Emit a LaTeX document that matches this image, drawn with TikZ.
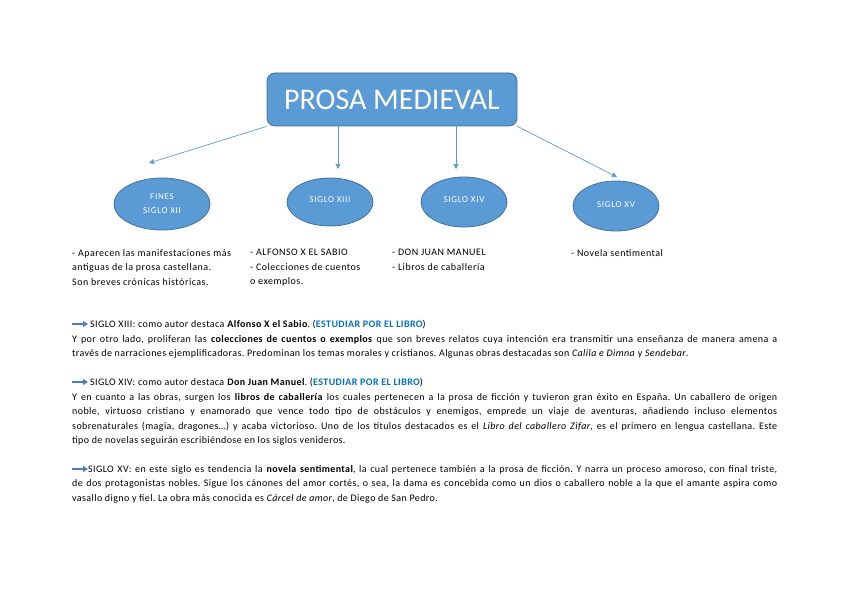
\documentclass[tikz,border=0pt]{standalone}
\usepackage{fontspec}
\setmainfont{Carlito}
\newfontfamily\spaced{Carlito}[LetterSpace=5]
\newfontfamily\parafont{Carlito}[LetterSpace=4]
\newfontfamily\labelfont{Carlito}[LetterSpace=8]
\usepackage{xcolor}
\usetikzlibrary{shapes,arrows.meta,positioning}
\frenchspacing

\definecolor{boxblue}{HTML}{5B9BD5}
\definecolor{edgeblue}{HTML}{41719C}
\definecolor{linkblue}{HTML}{0070C0}
\definecolor{iconblue}{HTML}{4A7EBB}

\begin{document}
\begin{tikzpicture}[
    x=1pt, y=-1pt,
    header/.style={rectangle, draw=edgeblue, line width=0.8pt, fill=boxblue, text=white, rounded corners=8pt, minimum width=250pt, minimum height=53pt, font=\fontsize{30}{34}\selectfont},
    epoch/.style={ellipse, draw=edgeblue, line width=0.8pt, fill=boxblue, text=white, inner sep=0pt, align=center, font=\labelfont\fontsize{9}{14}\selectfont},
    notes/.style={anchor=north west, inner sep=0pt, align=left, font=\spaced\fontsize{10}{14.5}\selectfont},
    para/.style={anchor=north west, inner sep=0pt, text width=705pt, align=justify, font=\parafont\fontsize{10}{14.5}\selectfont},
    arrow/.style={-{Triangle[length=5pt,width=5pt]}, draw=boxblue, line width=0.7pt},
    pointer/.style={-{Triangle[length=5pt,width=6pt]}, draw=iconblue, line width=2pt}
]
\useasboundingbox (0,0) rectangle (848,599);

% Title
\node[header] (prosa) at (392,99.5) {PROSA MEDIEVAL};

% Centuries
\node[epoch, minimum width=96pt, minimum height=52pt] (xii) at (162,204) {FINES\\SIGLO XII};
\node[epoch, minimum width=86pt, minimum height=48pt] (xiii) at (330,202) {\raisebox{4pt}{SIGLO XIII}};
\node[epoch, minimum width=86pt, minimum height=50pt] (xiv) at (464,202) {\raisebox{4pt}{SIGLO XIV}};
\node[epoch, minimum width=86pt, minimum height=50pt] (xv) at (616,206) {\raisebox{3pt}{SIGLO XV}};

% Arrow tips above the ellipses
\coordinate (tipxii) at (149,163);
\coordinate (tipxiii) at (338,169);
\coordinate (tipxiv) at (456,169);
\coordinate (tipxv) at (617,177);

% Connections
\draw[arrow] (prosa.south west) -- (tipxii);
\draw[arrow] (tipxiii |- prosa.south) -- (tipxiii);
\draw[arrow] (tipxiv |- prosa.south) -- (tipxiv);
\draw[arrow] (prosa.south east) -- (tipxv);

% Notes under each century
\node[notes] (notesxii) at (72,249) {- Aparecen las manifestaciones más\\antiguas de la prosa castellana.\\Son breves crónicas históricas.};
\node[notes] (notesxiii) at (250,249) {- ALFONSO X EL SABIO\\- Colecciones de cuentos\\o exemplos.};
\node[notes] (notesxiv) at (392,249) {- DON JUAN MANUEL\\- Libros de caballería};
\node[notes] (notesxv) at (571,249) {- Novela sentimental};

% Paragraphs
\node[para] (parxiii) at (72,320) {\hspace*{18pt}SIGLO XIII: como autor destaca \textbf{Alfonso X el Sabio}. (\textbf{\color{linkblue}ESTUDIAR POR EL LIBRO})\\
Y por otro lado, proliferan las \textbf{colecciones de cuentos o exemplos} que son breves relatos cuya intención era transmitir una enseñanza de manera amena a\linebreak
través de narraciones ejemplificadoras. Predominan los temas morales y cristianos. Algunas obras destacadas son \textit{Calila e Dimna} y \textit{Sendebar}.};

\node[para] (parxiv) at (72,378) {\hspace*{18pt}SIGLO XIV: como autor destaca \textbf{Don Juan Manuel}. (\textbf{\color{linkblue}ESTUDIAR POR EL LIBRO})\\
Y en cuanto a las obras, surgen los \textbf{libros de caballería} los cuales pertenecen a la prosa de ficción y tuvieron gran éxito en España. Un caballero de origen\linebreak
noble, virtuoso cristiano y enamorado que vence todo tipo de obstáculos y enemigos, emprede un viaje de aventuras, añadiendo incluso elementos\linebreak
sobrenaturales (magia, dragones…) y acaba victorioso. Uno de los títulos destacados es el \textit{Libro del caballero Zifar}, es el primero en lengua castellana. Este\linebreak
tipo de novelas seguirán escribiéndose en los siglos venideros.};

\node[para] (parxv) at (72,465) {\hspace*{16pt}SIGLO XV: en este siglo es tendencia la \textbf{novela sentimental}, la cual pertenece también a la prosa de ficción. Y narra un proceso amoroso, con final triste,\linebreak
de dos protagonistas nobles. Sigue los cánones del amor cortés, o sea, la dama es concebida como un dios o caballero noble a la que el amante aspira como\linebreak
vasallo digno y fiel. La obra más conocida es \textit{Cárcel de amor}, de Diego de San Pedro.};

% Small pointers before each heading
\coordinate (pxiiia) at (72,324);
\coordinate (pxiiib) at (88,324);
\coordinate (pxiva) at (72,382);
\coordinate (pxivb) at (88,382);
\coordinate (pxva) at (72,469);
\coordinate (pxvb) at (88,469);
\draw[pointer] (pxiiia) -- (pxiiib);
\draw[pointer] (pxiva) -- (pxivb);
\draw[pointer] (pxva) -- (pxvb);

\end{tikzpicture}
\end{document}
